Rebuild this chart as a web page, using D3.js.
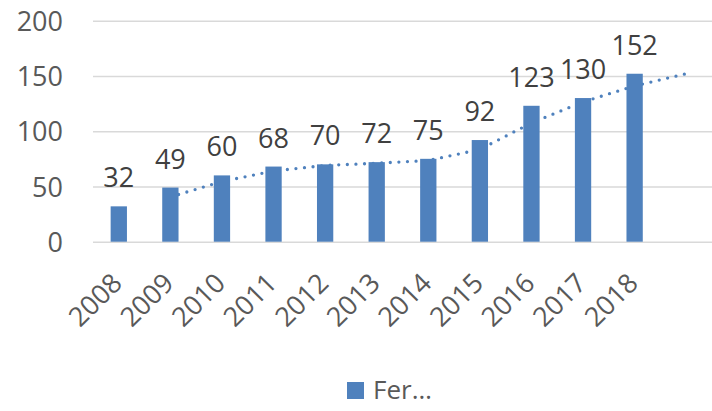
<!DOCTYPE html>
<html>
<head>
<meta charset="utf-8">
<script src="https://cdn.jsdelivr.net/npm/d3@7"></script>
<style>
  html, body { margin: 0; padding: 0; background: #fff; }
  svg { display: block; font-family: "Open Sans", sans-serif; }
</style>
</head>
<body>
<svg id="chart" width="712" height="411"></svg>
<script>
const years = ["2008","2009","2010","2011","2012","2013","2014","2015","2016","2017","2018"];
const values = [32, 49, 60, 68, 70, 72, 75, 92, 123, 130, 152];
// two-period moving average trendline (Excel), extended one slot forward
const trendSlots = ["2008","2009","2010","2011","2012","2013","2014","2015","2016","2017","2018","next"];
const trendValues = [null, 40.5, 54.5, 64, 69, 71, 73.5, 83.5, 107.5, 126.5, 141, 152];
const yTicks = [0, 50, 100, 150, 200];
const seriesName = "Fer…";

const svg = d3.select("#chart");
const color = "#4f81bd";
const margin = { left: 93, right: 0, top: 20.7, bottom: 241.7 };

const x = d3.scaleBand().domain(trendSlots).range([93, 712]).paddingInner(0.684).paddingOuter(0.342);
const y = d3.scaleLinear().domain([0, 200]).range([241.7, 20.7]);

// gridlines
const yAxis = d3.axisLeft(y).tickValues(yTicks).tickSize(-(712 - 93)).tickPadding(30);
const gy = svg.append("g").attr("transform", "translate(93,0)").call(yAxis);
gy.select(".domain").remove();
gy.selectAll(".tick line").attr("stroke", "#d9d9d9").attr("stroke-width", 1.5);
gy.selectAll(".tick text")
  .attr("fill", "#595959").attr("font-size", 27).attr("font-family", "Open Sans, sans-serif")
  .attr("x", -30).attr("dy", "0.36em");

// trendline (behind bars)
const line = d3.line()
  .defined(d => d.v !== null)
  .x(d => x(d.k) + x.bandwidth() / 2)
  .y(d => y(d.v));
svg.append("path")
  .datum(trendSlots.map((k, i) => ({ k, v: trendValues[i] })))
  .attr("d", line)
  .attr("fill", "none")
  .attr("stroke", color)
  .attr("stroke-width", 3.3)
  .attr("stroke-linecap", "round")
  .attr("stroke-dasharray", "0 8.6");

// bars
svg.append("g").selectAll("rect").data(years).join("rect")
  .attr("x", (d) => x(d))
  .attr("width", x.bandwidth())
  .attr("y", (d, i) => y(values[i]))
  .attr("height", (d, i) => y(0) - y(values[i]))
  .attr("fill", color);

// data labels
svg.append("g").selectAll("text").data(years).join("text")
  .attr("x", d => x(d) + x.bandwidth() / 2)
  .attr("y", (d, i) => y(values[i]) - 19)
  .attr("text-anchor", "middle")
  .attr("fill", "#404040")
  .attr("font-size", 27)
  .text((d, i) => values[i]);

// x axis labels
const xAxis = d3.axisBottom(x).tickValues(years).tickSize(0).tickPadding(0);
const gx = svg.append("g").attr("transform", "translate(0,241.7)").call(xAxis);
gx.select(".domain").remove();
gx.selectAll(".tick text")
  .attr("fill", "#595959").attr("font-size", 27).attr("font-family", "Open Sans, sans-serif")
  .attr("text-anchor", "end")
  .attr("y", 0).attr("dy", 0)
  .attr("transform", "translate(5,43) rotate(-45)");

// legend
const lg = svg.append("g");
lg.append("rect").attr("x", 347).attr("y", 382).attr("width", 17).attr("height", 17).attr("fill", color);
lg.append("text").attr("x", 373).attr("y", 399).attr("fill", "#595959").attr("font-size", 26).text(seriesName);
</script>
</body>
</html>
